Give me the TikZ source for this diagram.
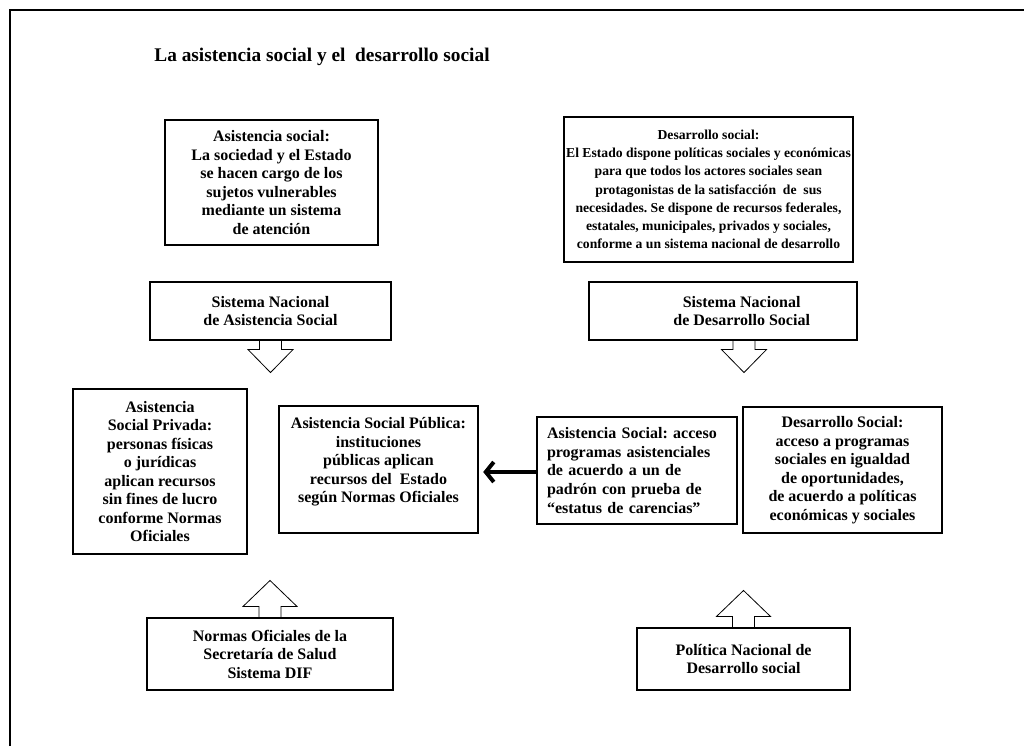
\documentclass[tikz,border=0pt]{standalone}
\usepackage{fontspec}
\setmainfont{Liberation Serif}
\usetikzlibrary{calc,arrows.meta,shadows}

\begin{document}
\frenchspacing
\begin{tikzpicture} [
    x=0.75pt, y=-0.75pt,
    box/.style={draw, line width=0.8pt, fill=white, inner sep=0pt, align=center,
      font=\fontsize{12}{13.9}\selectfont\bfseries,
      drop shadow={shadow xshift=0.9pt, shadow yshift=-0.9pt, fill=black!55, opacity=1}},
    thickarrow/.style={line width=3pt, -{Straight Barb[length=6pt,width=15pt]}, shorten >=3.5pt},
    pics/blockdown/.style={code={\draw[line width=0.6pt, line join=miter] (-11,0) -- (-11,9) -- (-22.5,9) -- (0,32) -- (22.5,9) -- (11,9) -- (11,0);}},
    pics/blockup/.style={code={\draw[line width=0.6pt, line join=miter] (-11,0) -- (-11,-11) -- (-27,-11) -- (0,-37) -- (27,-11) -- (11,-11) -- (11,0);}}
  ]

\useasboundingbox (0,0) rectangle (1024,746);

% frame
\draw[line width=2pt] (10,746) -- (10,10) -- (1024,10);

% title
\node (title) at (322,57) {\fontsize{14.5}{17}\selectfont\bfseries La asistencia social y el~ desarrollo social};

% top boxes
\node[box, minimum width=159.75pt, minimum height=93.75pt] (asis) at (271.5,182.5)
  {Asistencia social:\\ La sociedad y el Estado\\ se hacen cargo de los\\ sujetos vulnerables\\ mediante un sistema\\ de atención};
\node[box, font=\fontsize{10.25}{13.7}\selectfont\bfseries, minimum width=216.75pt, minimum height=108.75pt] (desa) at (708.5,189.5)
  {Desarrollo social:\\ El Estado dispone políticas sociales y económicas\\ para que todos los actores sociales sean\\ protagonistas de la satisfacción~ de~ sus\\ necesidades. Se dispone de recursos federales,\\ estatales, municipales, privados y sociales,\\ conforme a un sistema nacional de desarrollo};

% sistemas
\node[box, minimum width=180.75pt, minimum height=43.5pt] (sisA) at (270.5,311)
  {Sistema Nacional\\ de Asistencia Social};
\node[box, minimum width=201pt, minimum height=43.5pt] (sisD) at (723,311)
  {\hspace*{28pt}Sistema Nacional\\ \hspace*{28pt}de Desarrollo Social};

\pic at (sisA.south) {blockdown};
\pic at ($(sisD.south)+(21,0)$) {blockdown};

% middle row
\node[box, minimum width=130.5pt, minimum height=123.75pt] (priv) at (160,471.5)
  {Asistencia\\ Social Privada:\\ personas físicas\\ o jurídicas\\ aplican recursos\\ sin fines de lucro\\ conforme Normas\\ Oficiales};
\node[box, minimum width=149.25pt, minimum height=95.25pt] (pub) at (378.5,469.5)
  {Asistencia Social Pública:\\ instituciones\\ públicas aplican\\ recursos del~ Estado\\ según Normas Oficiales\\ \mbox{}};
\node[box, minimum width=150pt, minimum height=80.25pt, align=left, text width=135pt] (acc) at (637,470.5)
  {Asistencia Social: acceso\\ programas asistenciales\\ de acuerdo a un de\\ padrón con prueba de\\ “estatus de carencias”};
\node[box, minimum width=149.25pt, minimum height=94.5pt] (desS) at (842.5,470)
  {Desarrollo Social:\\ acceso a programas\\ sociales en igualdad\\ de oportunidades,\\ de acuerdo a políticas\\ económicas y sociales};

\draw[thickarrow] ($(acc.west)+(0,1.5)$) -- ($(pub.east)+(0,2.5)$);

% bottom boxes
\node[box, minimum width=184.5pt, minimum height=54pt] (norm) at (270,654)
  {Normas Oficiales de la\\ Secretaría de Salud\\ Sistema DIF};
\node[box, minimum width=159.75pt, minimum height=46.5pt] (pol) at (743.5,659)
  {Política Nacional de\\ Desarrollo social};

\pic at (norm.north) {blockup};
\pic at (pol.north) {blockup};

\end{tikzpicture}
\end{document}
